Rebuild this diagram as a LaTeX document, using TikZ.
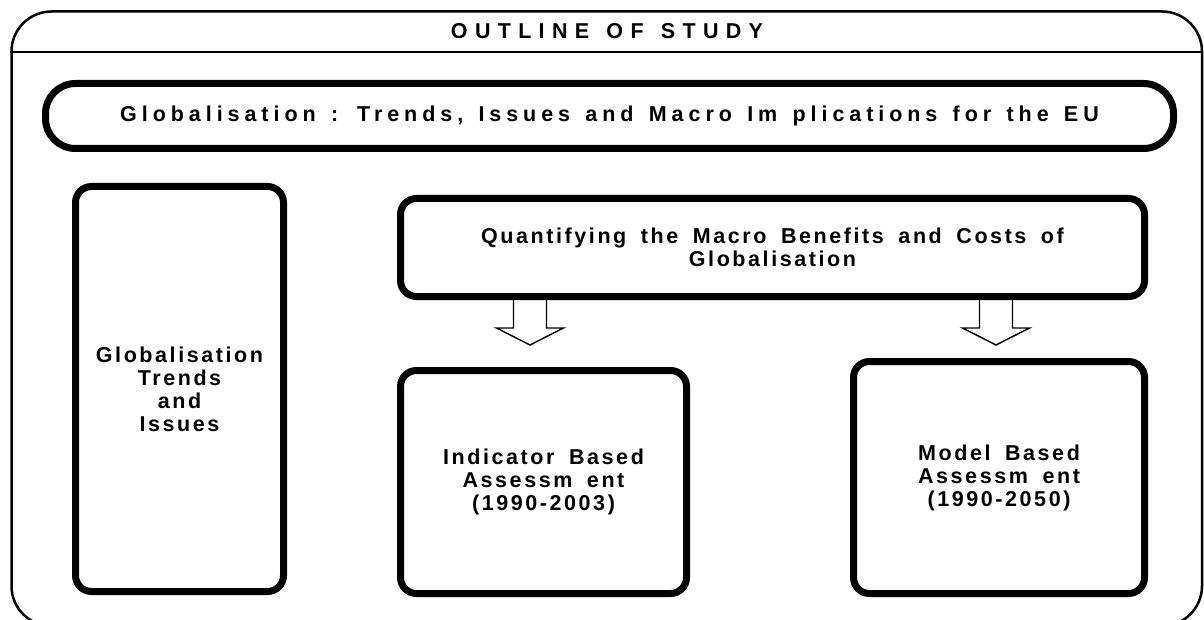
\documentclass[tikz,border=0pt]{standalone}
\usepackage{fontspec}
\setmainfont{Liberation Sans}
\newfontfamily\spA{Liberation Sans}[LetterSpace=12, WordSpace=1.7]
\newfontfamily\spB{Liberation Sans}[LetterSpace=23, WordSpace=1.4]
\newfontfamily\spT{Liberation Sans}[LetterSpace=34, WordSpace=1.3]
\usetikzlibrary{calc}
\tikzset{
  thickbox/.style={draw, line width=7pt, rounded corners=16pt, inner sep=0pt, align=center,
    font=\spA\bfseries\fontsize{21.5}{23}\selectfont},
  barrow/.style={draw, line width=1.4pt, fill=white, line join=miter},
  frame/.style={draw, line width=2.5pt},
}
\newcommand\blockarrow[1]{%
  \draw[barrow] ($(#1)+(-16.5,0)$) -- ($(#1)+(-16.5,30)$) -- ($(#1)+(-33.5,30)$) --
    ($(#1)+(0,47)$) -- ($(#1)+(33.5,30)$) -- ($(#1)+(16.5,30)$) -- ($(#1)+(16.5,0)$);}
\begin{document}
\begin{tikzpicture}[x=1pt,y=-1pt]
\useasboundingbox (0,0) rectangle (1204,620);
% outer frame
\draw[frame, rounded corners=40pt] (11.5,11.5) rectangle (1202,626);
\draw[frame] (10,52) -- (1203,52);
\node[font=\spT\bfseries\fontsize{21.5}{24}\selectfont, inner sep=0pt] (title) at (607,31) {OUTLINE OF STUDY};
% arrows (drawn first, boxes cover shaft tops)
\coordinate (a1) at (530,298);
\coordinate (a2) at (996,298);
\blockarrow{a1}
\blockarrow{a2}
% boxes
\node[thickbox, rounded corners=30pt, minimum width=1128pt, minimum height=65pt,
  font=\spB\bfseries\fontsize{21.5}{24}\selectfont] (banner) at (609.5,116)
  {Globalisation : Trends, Issues and Macro Im plications for the EU};
\node[thickbox, minimum width=208pt, minimum height=405pt] (trends) at (179.5,389)
  {Globalisation\\Trends\\and\\Issues};
\node[thickbox, minimum width=744pt, minimum height=98pt] (quant) at (772.5,247.5)
  {Quantifying the Macro Benefits and Costs of\\Globalisation};
\node[thickbox, minimum width=286pt, minimum height=223pt] (ind) at (543.5,482)
  {Indicator Based\\Assessm ent\\(1990-2003)};
\node[thickbox, minimum width=291pt, minimum height=232pt] (model) at (999,477.5)
  {Model Based\\Assessm ent\\(1990-2050)};
\end{tikzpicture}
\end{document}
